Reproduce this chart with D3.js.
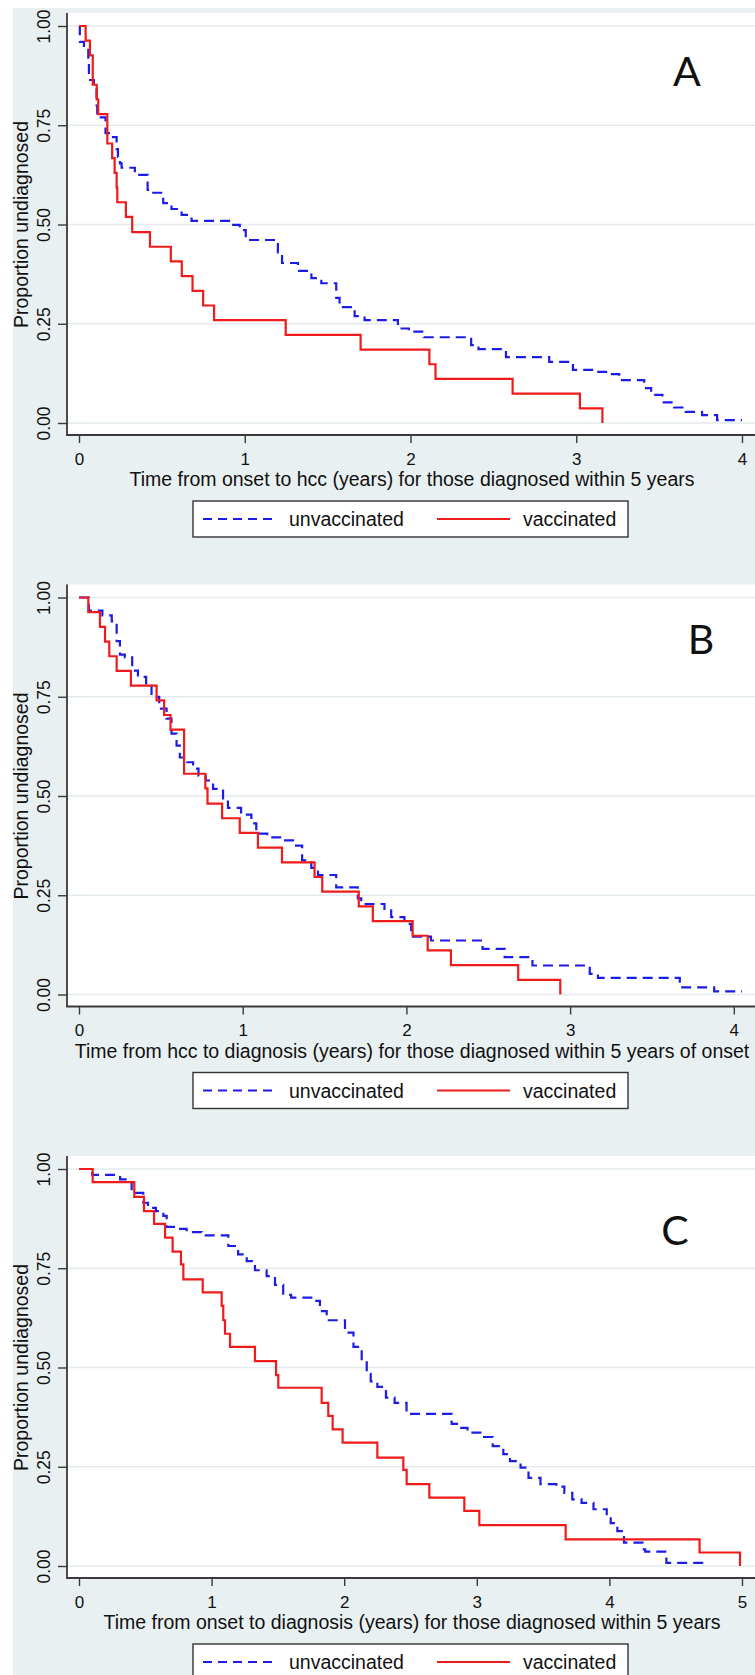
<!DOCTYPE html>
<html>
<head>
<meta charset="utf-8">
<script src="https://cdn.jsdelivr.net/npm/d3@7"></script>
<style>
  body { margin: 0; background: #fff; }
  text { font-family: "Liberation Sans", Arial, sans-serif; fill: #111; }
</style>
</head>
<body>
<div id="visualization"></div>
<script>
// chart values

var panelLabels = ["A", "B", "C"];
var xTitles = [
  "Time from onset to hcc (years) for those diagnosed within 5 years",
  "Time from hcc to diagnosis (years) for those diagnosed within 5 years of onset",
  "Time from onset to diagnosis (years) for those diagnosed within 5 years"
];
var yTitle = "Proportion undiagnosed";
var seriesNames = ["unvaccinated", "vaccinated"];

var yTicks = [0, 0.25, 0.5, 0.75, 1];
var xTicksA = [0, 1, 2, 3, 4];
var xTicksB = [0, 1, 2, 3, 4];
var xTicksC = [0, 1, 2, 3, 4, 5];
var xMaxA = 4.0;
var xMaxB = 4.05;
var xMaxC = 5.0;

// [time, proportion after the step]
var unvaccinatedA = [
  [0, 1], [0.005, 0.96], [0.03, 0.945], [0.056, 0.906], [0.06, 0.864], [0.09, 0.84],
  [0.106, 0.8], [0.11, 0.78], [0.12, 0.77], [0.16, 0.73], [0.18, 0.72], [0.227, 0.69],
  [0.235, 0.67], [0.247, 0.654], [0.257, 0.643], [0.337, 0.625], [0.414, 0.587],
  [0.448, 0.58], [0.508, 0.554], [0.558, 0.539], [0.619, 0.524], [0.679, 0.509],
  [0.92, 0.499], [0.97, 0.486], [1.006, 0.461], [1.2, 0.43], [1.225, 0.403],
  [1.321, 0.383], [1.402, 0.365], [1.462, 0.352], [1.552, 0.315], [1.572, 0.292],
  [1.663, 0.269], [1.723, 0.259], [1.924, 0.238], [1.99, 0.23], [2.08, 0.216],
  [2.366, 0.196], [2.41, 0.186], [2.576, 0.166], [2.837, 0.154], [2.98, 0.134],
  [3.118, 0.129], [3.18, 0.123], [3.259, 0.108], [3.41, 0.088], [3.452, 0.071],
  [3.52, 0.052], [3.59, 0.039], [3.66, 0.028], [3.759, 0.02], [3.85, 0.007], [4.0, 0.007]
];
var vaccinatedA = [
  [0, 1], [0.04, 0.963], [0.066, 0.926], [0.083, 0.852], [0.107, 0.815], [0.116, 0.778],
  [0.171, 0.704], [0.2, 0.667], [0.215, 0.63], [0.227, 0.593], [0.231, 0.556],
  [0.283, 0.519], [0.321, 0.481], [0.428, 0.444], [0.554, 0.407], [0.62, 0.37],
  [0.685, 0.333], [0.749, 0.296], [0.815, 0.259], [1.247, 0.222], [1.699, 0.185],
  [2.114, 0.148], [2.151, 0.111], [2.616, 0.074], [3.022, 0.037], [3.158, 0]
];

var unvaccinatedB = [
  [0, 1], [0.06, 0.967], [0.143, 0.955], [0.2, 0.94], [0.23, 0.89], [0.25, 0.856],
  [0.28, 0.849], [0.325, 0.816], [0.36, 0.8], [0.41, 0.778], [0.443, 0.75], [0.49, 0.72],
  [0.535, 0.695], [0.565, 0.657], [0.596, 0.627], [0.616, 0.597], [0.65, 0.585],
  [0.697, 0.569], [0.73, 0.551], [0.774, 0.539], [0.819, 0.518], [0.88, 0.494],
  [0.91, 0.47], [0.99, 0.453], [1.053, 0.431], [1.083, 0.405], [1.15, 0.396],
  [1.236, 0.388], [1.307, 0.375], [1.363, 0.338], [1.419, 0.319], [1.46, 0.301],
  [1.571, 0.27], [1.703, 0.242], [1.724, 0.228], [1.866, 0.212], [1.907, 0.195],
  [1.988, 0.178], [2.029, 0.146], [2.15, 0.136], [2.465, 0.115], [2.6, 0.094],
  [2.77, 0.073], [3.12, 0.052], [3.17, 0.042], [3.67, 0.018], [3.88, 0.008], [4.05, 0.008]
];
var vaccinatedB = [
  [0, 1], [0.057, 0.963], [0.128, 0.926], [0.159, 0.889], [0.185, 0.852], [0.23, 0.815],
  [0.317, 0.778], [0.474, 0.741], [0.52, 0.704], [0.559, 0.667], [0.642, 0.556],
  [0.772, 0.519], [0.785, 0.481], [0.874, 0.444], [0.982, 0.407], [1.093, 0.37],
  [1.24, 0.333], [1.439, 0.296], [1.486, 0.259], [1.709, 0.222], [1.795, 0.185],
  [2.038, 0.148], [2.13, 0.111], [2.272, 0.074], [2.683, 0.037], [2.94, 0]
];

var unvaccinatedC = [
  [0, 1], [0.1, 0.985], [0.31, 0.974], [0.36, 0.967], [0.397, 0.945], [0.43, 0.94],
  [0.485, 0.915], [0.52, 0.902], [0.58, 0.894], [0.636, 0.882], [0.661, 0.854],
  [0.75, 0.849], [0.812, 0.841], [0.925, 0.833], [1.126, 0.806], [1.2, 0.785],
  [1.265, 0.768], [1.327, 0.745], [1.415, 0.73], [1.478, 0.708], [1.54, 0.683],
  [1.6, 0.676], [1.79, 0.668], [1.817, 0.642], [1.868, 0.619], [2.006, 0.588],
  [2.07, 0.552], [2.132, 0.516], [2.17, 0.484], [2.2, 0.465], [2.25, 0.451],
  [2.315, 0.424], [2.38, 0.411], [2.47, 0.383], [2.81, 0.358], [2.85, 0.348],
  [2.93, 0.336], [3.04, 0.325], [3.12, 0.302], [3.2, 0.282], [3.25, 0.264],
  [3.33, 0.248], [3.39, 0.222], [3.48, 0.206], [3.6, 0.2], [3.66, 0.184],
  [3.72, 0.168], [3.79, 0.159], [3.88, 0.143], [3.98, 0.126], [4.01, 0.108],
  [4.06, 0.088], [4.11, 0.059], [4.25, 0.042], [4.27, 0.036], [4.43, 0.008], [4.7, 0]
];
var vaccinatedC = [
  [0, 1], [0.103, 0.967], [0.417, 0.93], [0.49, 0.894], [0.566, 0.862], [0.649, 0.827],
  [0.706, 0.792], [0.769, 0.76], [0.787, 0.722], [0.933, 0.689], [1.076, 0.655],
  [1.088, 0.619], [1.101, 0.585], [1.139, 0.552], [1.327, 0.516], [1.486, 0.481],
  [1.503, 0.449], [1.83, 0.411], [1.88, 0.378], [1.913, 0.344], [1.988, 0.311],
  [2.25, 0.273], [2.446, 0.242], [2.471, 0.206], [2.642, 0.172], [2.906, 0.139],
  [3.019, 0.103], [3.67, 0.067], [4.68, 0.034], [4.985, 0]
];

//////////////////////////////////////////////////////////////////////////////

var width = 755;
var height = 1675;
var panelTops = [13, 584.5, 1156];
var labelPos = [[687, 73], [701, 69], [675, 89]];
var colors = { unvaccinated: "#1c1ce6", vaccinated: "#ef1b1b" };

var svg = d3.select("#visualization").append("svg")
  .attr("width", width)
  .attr("height", height);

// stata graph region
svg.append("rect")
  .attr("x", 13)
  .attr("y", 8)
  .attr("width", width)
  .attr("height", height)
  .attr("fill", "#e9f0f2");

drawPanel(0, xMaxA, xTicksA, unvaccinatedA, vaccinatedA);
drawPanel(1, xMaxB, xTicksB, unvaccinatedB, vaccinatedB);
drawPanel(2, xMaxC, xTicksC, unvaccinatedC, vaccinatedC);

//////////////////////////////////////////////////////////////////////////////

function drawPanel(i, xMax, xTicks, unvacc, vacc) {
  var plot = { left: 67, right: 757, top: 0, bottom: 422 };

  var g = svg.append("g")
    .attr("transform", "translate(0," + panelTops[i] + ")");

  var xScale = d3.scaleLinear()
    .domain([0, xMax])
    .range([79, 742]);

  var yScale = d3.scaleLinear()
    .domain([0, 1])
    .range([410, 13]);

  g.append("rect")
    .attr("x", plot.left)
    .attr("y", plot.top)
    .attr("width", plot.right - plot.left)
    .attr("height", plot.bottom - plot.top)
    .attr("fill", "#fff");

  // grid
  g.selectAll("line.grid")
    .data(yTicks)
    .enter()
    .append("line")
    .attr("class", "grid")
    .attr("x1", plot.left)
    .attr("x2", plot.right)
    .attr("y1", function(d) { return yScale(d); })
    .attr("y2", function(d) { return yScale(d); })
    .attr("stroke", "#e3ebee")
    .attr("stroke-width", 1.6);

  // y axis
  var yAxis = g.append("g")
    .attr("transform", "translate(" + plot.left + ",0)")
    .call(d3.axisLeft(yScale).tickValues(yTicks).tickSize(9).tickFormat(d3.format(".2f")));
  yAxis.select(".domain").remove();
  yAxis.selectAll("line").attr("stroke", "#3a3a3a").attr("stroke-width", 1.4);
  yAxis.selectAll("text")
    .attr("x", null)
    .attr("dy", null)
    .attr("text-anchor", "middle")
    .attr("transform", "translate(-17.5,0) rotate(-90)")
    .style("font-size", "17.5px")
    .style("font-family", "Liberation Sans, Arial, sans-serif")
    .attr("fill", "#111");

  // x axis
  var xAxis = g.append("g")
    .attr("transform", "translate(0," + plot.bottom + ")")
    .call(d3.axisBottom(xScale).tickValues(xTicks).tickSize(8).tickSizeOuter(0).tickFormat(d3.format("d")));
  xAxis.select(".domain").remove();
  xAxis.selectAll("line").attr("stroke", "#3a3a3a").attr("stroke-width", 1.4);
  xAxis.selectAll("text")
    .attr("y", 29.5)
    .attr("dy", null)
    .style("font-size", "17px")
    .style("font-family", "Liberation Sans, Arial, sans-serif")
    .attr("fill", "#111");

  // axis lines
  g.append("path")
    .attr("d", "M" + plot.left + "," + plot.top + "V" + plot.bottom + "H" + (plot.right + 5))
    .attr("fill", "none")
    .attr("stroke", "#3a3a3a")
    .attr("stroke-width", 1.8);

  g.append("text")
    .attr("x", 412)
    .attr("y", plot.bottom + 51)
    .attr("text-anchor", "middle")
    .style("font-size", "19.5px")
    .text(xTitles[i]);

  g.append("text")
    .attr("transform", "translate(28," + yScale(0.5) + ") rotate(-90)")
    .attr("text-anchor", "middle")
    .style("font-size", "19.5px")
    .text(yTitle);

  // km curves
  var line = d3.line()
    .x(function(d) { return xScale(d[0]); })
    .y(function(d) { return yScale(d[1]); })
    .curve(d3.curveStepAfter);

  g.append("path")
    .datum(unvacc)
    .attr("d", line)
    .attr("fill", "none")
    .attr("stroke", colors.unvaccinated)
    .attr("stroke-width", 2.2)
    .attr("stroke-dasharray", "10,6");

  g.append("path")
    .datum(vacc)
    .attr("d", line)
    .attr("fill", "none")
    .attr("stroke", colors.vaccinated)
    .attr("stroke-width", 2.2);

  g.append("text")
    .attr("x", labelPos[i][0])
    .attr("y", labelPos[i][1])
    .attr("text-anchor", "middle")
    .style("font-family", "Lato, 'Open Sans', sans-serif")
    .style("font-size", "41px")
    .text(panelLabels[i]);

  drawLegend(g, plot.bottom + 66);
}

//////////////////////////////////////////////////////////////////////////////

function drawLegend(g, top) {
  var lg = g.append("g").attr("transform", "translate(193," + top + ")");
  var mid = 18;

  lg.append("rect")
    .attr("width", 435)
    .attr("height", 36)
    .attr("fill", "#fff")
    .attr("stroke", "#333")
    .attr("stroke-width", 1.4);

  var items = [
    { name: seriesNames[0], x0: 10, x1: 85, tx: 96, dash: "9,6" },
    { name: seriesNames[1], x0: 244, x1: 317, tx: 330, dash: null }
  ];

  lg.selectAll("line.key")
    .data(items)
    .enter()
    .append("line")
    .attr("class", "key")
    .attr("x1", function(d) { return d.x0; })
    .attr("x2", function(d) { return d.x1; })
    .attr("y1", mid)
    .attr("y2", mid)
    .attr("stroke", function(d) { return colors[d.name]; })
    .attr("stroke-width", 2.2)
    .attr("stroke-dasharray", function(d) { return d.dash; });

  lg.selectAll("text.key")
    .data(items)
    .enter()
    .append("text")
    .attr("class", "key")
    .attr("x", function(d) { return d.tx; })
    .attr("y", mid + 7)
    .style("font-size", "19.5px")
    .text(function(d) { return d.name; });
}
</script>
</body>
</html>
